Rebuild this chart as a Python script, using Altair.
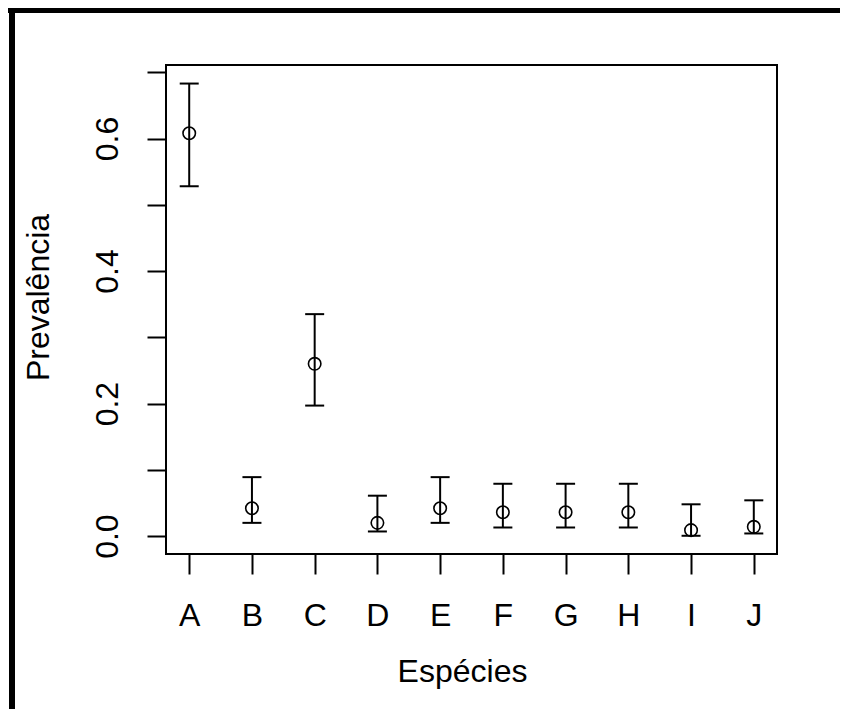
import altair as alt
import pandas as pd

# ---- data ----
species = ["A", "B", "C", "D", "E", "F", "G", "H", "I", "J"]
prevalence = [0.608, 0.042, 0.260, 0.020, 0.042, 0.036, 0.036, 0.036, 0.009, 0.014]
lower_ci = [0.528, 0.020, 0.197, 0.007, 0.020, 0.013, 0.013, 0.013, 0.0005, 0.004]
upper_ci = [0.683, 0.089, 0.335, 0.061, 0.089, 0.079, 0.079, 0.079, 0.048, 0.054]
y_tick_values = [0.0, 0.1, 0.2, 0.3, 0.4, 0.5, 0.6, 0.7]
y_label_values = ["0.0", "0.2", "0.4", "0.6"]

df = pd.DataFrame({
    "species": species,
    "prev": prevalence,
    "lo": lower_ci,
    "hi": upper_ci,
})

FONT = "Liberation Sans"
FS = 32

label_list = "[" + ",".join("'" + v + "'" for v in y_label_values) + "]"

x_enc = alt.X(
    "species:N",
    sort=species,
    scale=alt.Scale(type="point", padding=0.37),
    axis=alt.Axis(
        title="Espécies",
        labelAngle=0,
        labelFont=FONT, labelFontSize=FS, labelColor="black",
        labelBaseline="alphabetic", labelPadding=51,
        tickSize=20, tickWidth=2, tickColor="black",
        domain=False, grid=False,
        titleFont=FONT, titleFontSize=FS, titleFontWeight="normal", titleColor="black",
        titleX=296, titleY=127, titleAlign="center", titleBaseline="alphabetic",
    ),
)

y_scale = alt.Scale(domain=[-0.027, 0.711], nice=False, zero=False)
y_axis = alt.Axis(
    title="Prevalência",
    values=y_tick_values,
    labelExpr="indexof(" + label_list + ", format(datum.value, '.1f')) >= 0 ? format(datum.value, '.1f') : ''",
    labelAngle=270, labelAlign="center", labelBaseline="alphabetic",
    labelPadding=30, labelOverlap=False,
    labelFont=FONT, labelFontSize=FS, labelColor="black",
    tickSize=19, tickWidth=2, tickColor="black",
    domain=False, grid=False,
    titleFont=FONT, titleFontSize=FS, titleFontWeight="normal", titleColor="black",
    titleAngle=270, titleX=-118, titleY=232, titleAlign="center", titleBaseline="alphabetic",
)

base = alt.Chart(df)

bars = base.mark_rule(color="black", strokeWidth=2).encode(
    x=x_enc,
    y=alt.Y("lo:Q", scale=y_scale, axis=y_axis),
    y2="hi:Q",
)

cap_lo = base.mark_tick(color="black", size=19, thickness=2, opacity=1).encode(
    x=alt.X("species:N", sort=species),
    y=alt.Y("lo:Q"),
)
cap_hi = base.mark_tick(color="black", size=19, thickness=2, opacity=1).encode(
    x=alt.X("species:N", sort=species),
    y=alt.Y("hi:Q"),
)

points = base.mark_point(
    shape="circle", filled=False, size=155, strokeWidth=1.6,
    color="black", opacity=1
).encode(
    x=alt.X("species:N", sort=species),
    y=alt.Y("prev:Q"),
)

# frame of the original image (decoration)
one = alt.Chart(pd.DataFrame({"k": [0]}))
frame_top = one.mark_rule(color="black", strokeWidth=5).encode(
    x=alt.value(-158), x2=alt.value(674), y=alt.value(-54.5)
)
frame_left = one.mark_rule(color="black", strokeWidth=6).encode(
    x=alt.value(-154), y=alt.value(-57), y2=alt.value(644)
)

chart = alt.layer(bars, cap_lo, cap_hi, points, frame_top, frame_left).properties(
    width=611,
    height=489,
    background="white",
    autosize=alt.AutoSizeParams(type="none"),
    padding={"left": 158, "top": 57, "right": 63, "bottom": 155},
).configure_view(
    stroke="black", strokeWidth=2
)

chart.save("out.html", embed_options={"renderer": "svg", "actions": False})
